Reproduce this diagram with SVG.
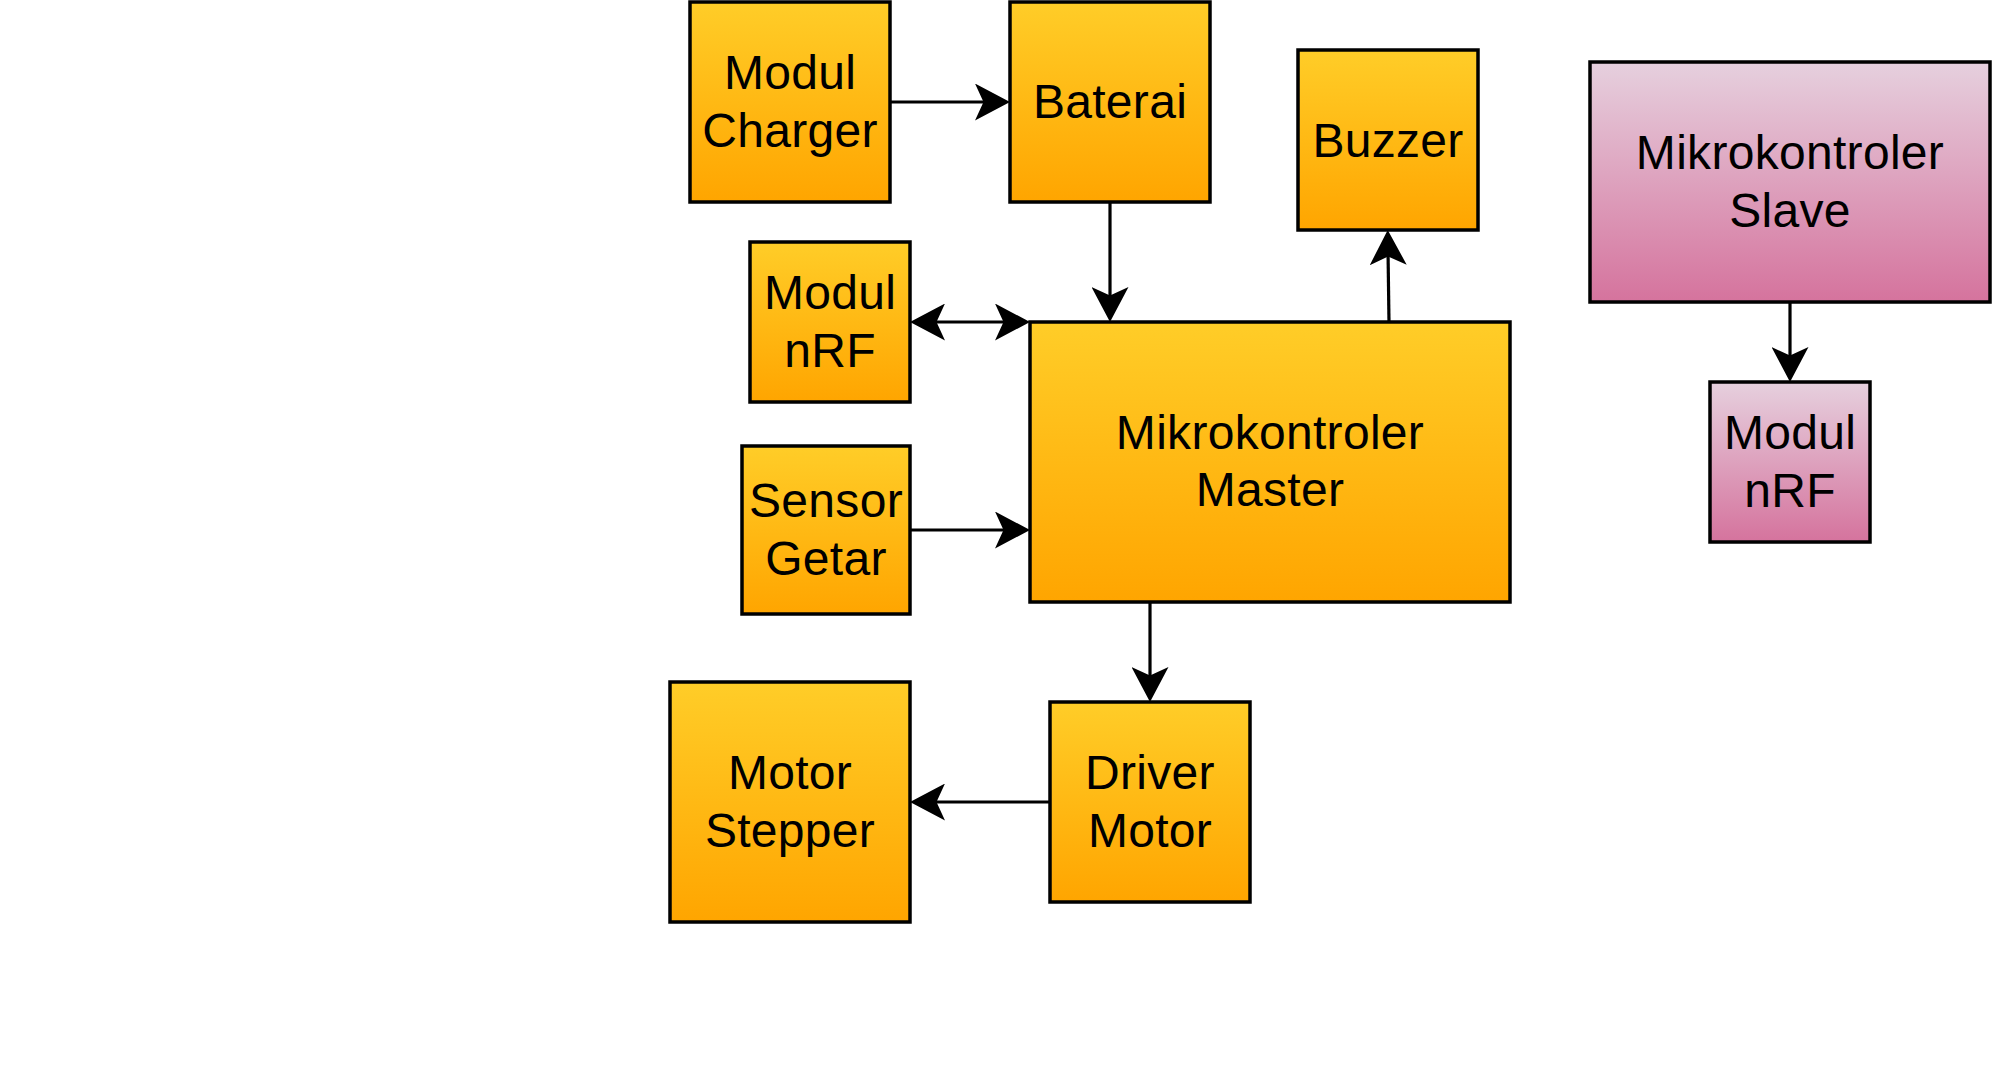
<svg xmlns="http://www.w3.org/2000/svg" width="1996" height="1076" viewBox="0 0 1996 1076">
  <defs>
    <linearGradient id="gOrange" x1="0" y1="0" x2="0" y2="1">
      <stop offset="0" stop-color="#ffcd28"/>
      <stop offset="1" stop-color="#ffa500"/>
    </linearGradient>
    <linearGradient id="gPink" x1="0" y1="0" x2="0" y2="1">
      <stop offset="0" stop-color="#e6d0de"/>
      <stop offset="1" stop-color="#d5739d"/>
    </linearGradient>
    <marker id="arrow" viewBox="0 0 35 37" markerUnits="userSpaceOnUse" markerWidth="35" markerHeight="37" refX="15" refY="18.5" orient="auto-start-reverse">
      <path d="M0,0 L35,18.5 L0,37 L8.5,18.5 Z" fill="#000"/>
    </marker>
  </defs>
  <style>
    .box { stroke: #000; stroke-width: 3.5; }
    .or { fill: url(#gOrange); }
    .pk { fill: url(#gPink); }
    .lbl { font-family: "Liberation Sans", Arial, Helvetica, sans-serif; font-size: 48px; letter-spacing: 0.3px; fill: #000; text-anchor: middle; }
    .edge { fill: none; stroke: #000; stroke-width: 3.2; }
  </style>
  <rect width="1996" height="1076" fill="#ffffff"/>

  <g id="connectors">
    <path class="edge" d="M890,102 L990,102" marker-end="url(#arrow)"/>
    <path class="edge" d="M1110,202 L1110,302" marker-end="url(#arrow)"/>
    <path class="edge" d="M930,322 L1010,322" marker-start="url(#arrow)" marker-end="url(#arrow)"/>
    <path class="edge" d="M1389,322 L1388,250" marker-end="url(#arrow)"/>
    <path class="edge" d="M910,530 L1010,530" marker-end="url(#arrow)"/>
    <path class="edge" d="M1150,602 L1150,682" marker-end="url(#arrow)"/>
    <path class="edge" d="M1050,802 L930,802" marker-end="url(#arrow)"/>
    <path class="edge" d="M1790,302 L1790,362" marker-end="url(#arrow)"/>
  </g>

  <g id="modul-charger">
    <rect class="box or" x="690" y="2" width="200" height="200"/>
    <text class="lbl" x="790" y="89">Modul<tspan x="790" dy="58">Charger</tspan></text>
  </g>
  <g id="baterai">
    <rect class="box or" x="1010" y="2" width="200" height="200"/>
    <text class="lbl" x="1110" y="118">Baterai</text>
  </g>
  <g id="buzzer">
    <rect class="box or" x="1298" y="50" width="180" height="180"/>
    <text class="lbl" x="1388" y="157">Buzzer</text>
  </g>
  <g id="mikrokontroler-slave">
    <rect class="box pk" x="1590" y="62" width="400" height="240"/>
    <text class="lbl" x="1790" y="169">Mikrokontroler<tspan x="1790" dy="58">Slave</tspan></text>
  </g>
  <g id="modul-nrf-master">
    <rect class="box or" x="750" y="242" width="160" height="160"/>
    <text class="lbl" x="830" y="309">Modul<tspan x="830" dy="58">nRF</tspan></text>
  </g>
  <g id="mikrokontroler-master">
    <rect class="box or" x="1030" y="322" width="480" height="280"/>
    <text class="lbl" x="1270" y="449">Mikrokontroler<tspan x="1270" dy="57">Master</tspan></text>
  </g>
  <g id="sensor-getar">
    <rect class="box or" x="742" y="446" width="168" height="168"/>
    <text class="lbl" x="826" y="517">Sensor<tspan x="826" dy="58">Getar</tspan></text>
  </g>
  <g id="modul-nrf-slave">
    <rect class="box pk" x="1710" y="382" width="160" height="160"/>
    <text class="lbl" x="1790" y="449">Modul<tspan x="1790" dy="58">nRF</tspan></text>
  </g>
  <g id="driver-motor">
    <rect class="box or" x="1050" y="702" width="200" height="200"/>
    <text class="lbl" x="1150" y="789">Driver<tspan x="1150" dy="58">Motor</tspan></text>
  </g>
  <g id="motor-stepper">
    <rect class="box or" x="670" y="682" width="240" height="240"/>
    <text class="lbl" x="790" y="789">Motor<tspan x="790" dy="58">Stepper</tspan></text>
  </g>
</svg>
